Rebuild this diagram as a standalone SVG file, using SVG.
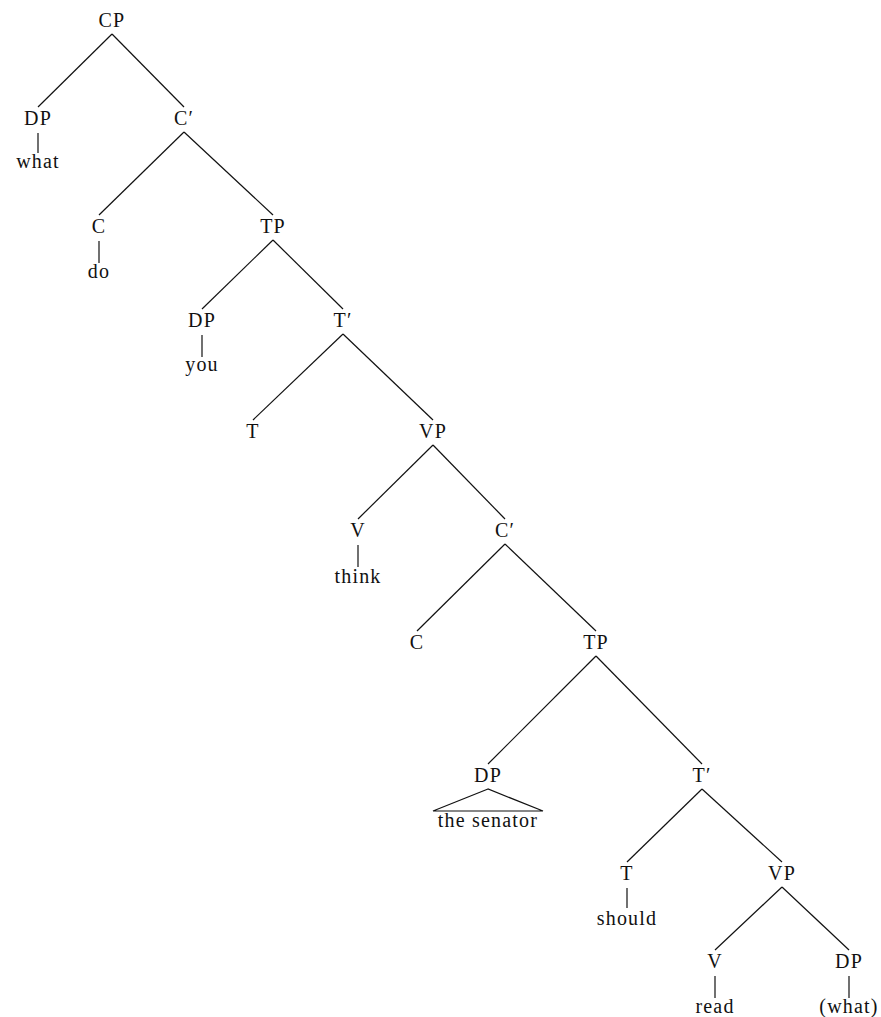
<svg xmlns="http://www.w3.org/2000/svg" width="881" height="1017" viewBox="0 0 881 1017">
<style>
text{font-family:"Liberation Serif","Times New Roman",serif;font-size:20px;fill:#111;text-anchor:middle;letter-spacing:1.2px}
line,polygon{stroke:#111;stroke-width:1.2;fill:none}
</style>
<rect width="881" height="1017" fill="#fff"/>
<g id="connectors">
<line x1="112" y1="34" x2="38" y2="107"/>
<line x1="112" y1="34" x2="184" y2="107"/>
<line x1="184" y1="132" x2="99" y2="215"/>
<line x1="184" y1="132" x2="273" y2="215"/>
<line x1="273" y1="240" x2="202" y2="309"/>
<line x1="273" y1="240" x2="343" y2="309"/>
<line x1="343" y1="334" x2="253" y2="420"/>
<line x1="343" y1="334" x2="433" y2="420"/>
<line x1="433" y1="445" x2="358" y2="519"/>
<line x1="433" y1="445" x2="505" y2="519"/>
<line x1="505" y1="544" x2="417" y2="631"/>
<line x1="505" y1="544" x2="596" y2="631"/>
<line x1="596" y1="656" x2="488" y2="764"/>
<line x1="596" y1="656" x2="702" y2="764"/>
<line x1="702" y1="789" x2="627" y2="862"/>
<line x1="702" y1="789" x2="782" y2="862"/>
<line x1="782" y1="887" x2="715" y2="950"/>
<line x1="782" y1="887" x2="849" y2="950"/>
<line x1="38" y1="133" x2="38" y2="153"/>
<line x1="99" y1="241" x2="99" y2="263"/>
<line x1="202" y1="335" x2="202" y2="357"/>
<line x1="358" y1="545" x2="358" y2="567"/>
<line x1="627" y1="888" x2="627" y2="908"/>
<line x1="715" y1="976" x2="715" y2="998"/>
<line x1="849" y1="976" x2="849" y2="998"/>
<polygon points="488,789 433,811 543,811"/>
</g>
<g id="n-cp"><text x="112" y="27">CP</text></g>
<g id="n-dp1"><text x="38" y="125">DP</text><text x="38" y="168">what</text></g>
<g id="n-cbar1"><text x="184" y="125">C′</text></g>
<g id="n-c1"><text x="99" y="233">C</text><text x="99" y="278">do</text></g>
<g id="n-tp1"><text x="273" y="233">TP</text></g>
<g id="n-dp2"><text x="202" y="327">DP</text><text x="202" y="371">you</text></g>
<g id="n-tbar1"><text x="343" y="327">T′</text></g>
<g id="n-t1"><text x="253" y="438">T</text></g>
<g id="n-vp1"><text x="433" y="438">VP</text></g>
<g id="n-v1"><text x="358" y="537">V</text><text x="358" y="583">think</text></g>
<g id="n-cbar2"><text x="505" y="537">C′</text></g>
<g id="n-c2"><text x="417" y="649">C</text></g>
<g id="n-tp2"><text x="596" y="649">TP</text></g>
<g id="n-dp3"><text x="488" y="782">DP</text><text x="488" y="827">the senator</text></g>
<g id="n-tbar2"><text x="702" y="782">T′</text></g>
<g id="n-t2"><text x="627" y="880">T</text><text x="627" y="925">should</text></g>
<g id="n-vp2"><text x="782" y="880">VP</text></g>
<g id="n-v2"><text x="715" y="968">V</text><text x="715" y="1013">read</text></g>
<g id="n-dp4"><text x="849" y="968">DP</text><text x="849" y="1013">(what)</text></g>
</svg>
